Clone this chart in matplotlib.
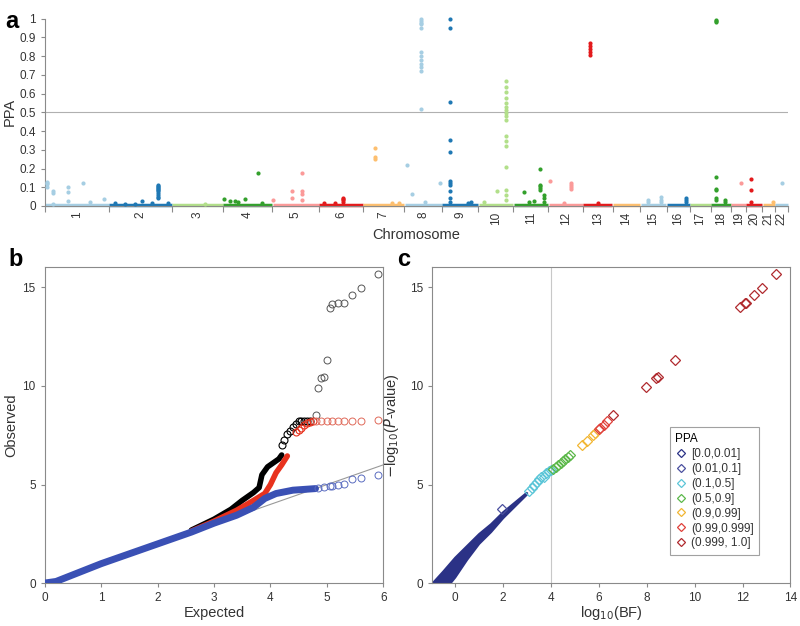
import numpy as np
import matplotlib
matplotlib.use("Agg")
import matplotlib.pyplot as plt
from matplotlib.lines import Line2D

# ---------------- panel a data ----------------
chrom_names = [str(i) for i in range(1, 23)]
chrom_len = [249, 243, 198, 191, 181, 171, 159, 146, 141, 136, 135,
             134, 115, 107, 102, 90, 81, 78, 59, 63, 48, 51]
chrom_cols = ["#a6cee3", "#1f78b4", "#b2df8a", "#33a02c", "#fb9a99", "#e31a1c", "#fdbf6f"]

# per chromosome: positions (Mb) and PPA of the visible SNPs above the baseline
snp_pos = [
    [8, 8, 8, 8, 31, 31, 31, 89, 89, 89, 147, 175, 229],
    [190, 190, 190, 190, 190, 190, 190, 190, 190, 190, 190, 128, 23, 229, 167, 60, 100],
    [130],
    [136, 4, 27, 45, 60, 85, 150],
    [1, 77, 77, 116, 116, 116, 116],
    [93, 93, 93, 93, 20, 60],
    [47, 47, 47, 110, 140],
    [12, 30, 65, 65, 65, 65, 65, 65, 65, 65, 65, 65, 65, 65, 140, 80],
    [30, 30, 30, 30, 30, 30, 30, 30, 30, 30, 30, 111, 100],
    [108, 108, 108, 108, 108, 108, 108, 108, 108, 108, 108, 108, 108, 108, 108, 108, 108, 72, 20],
    [101, 101, 101, 101, 101, 41, 120, 120, 120, 60, 80],
    [7, 89, 89, 89, 89, 60],
    [27, 27, 27, 27, 27, 60],
    [],
    [31, 31, 82, 82, 82],
    [75, 75, 75],
    [],
    [22, 22, 22, 22, 22, 22, 22, 22, 55, 55],
    [38],
    [19, 19, 19],
    [40],
    [28],
]
snp_ppa = [
    [0.13, 0.125, 0.115, 0.10, 0.08, 0.07, 0.01, 0.10, 0.075, 0.025, 0.125, 0.02, 0.035],
    [0.11, 0.105, 0.10, 0.095, 0.09, 0.085, 0.08, 0.07, 0.06, 0.05, 0.04, 0.025, 0.015, 0.015, 0.015, 0.01, 0.012],
    [0.01],
    [0.175, 0.035, 0.025, 0.025, 0.02, 0.035, 0.015],
    [0.03, 0.08, 0.045, 0.175, 0.08, 0.065, 0.03],
    [0.045, 0.035, 0.03, 0.02, 0.015, 0.015],
    [0.31, 0.26, 0.25, 0.015, 0.015],
    [0.22, 0.065, 1.0, 0.99, 0.98, 0.97, 0.95, 0.82, 0.80, 0.78, 0.76, 0.74, 0.72, 0.52, 0.12, 0.02],
    [1.0, 0.95, 0.556, 0.35, 0.29, 0.135, 0.12, 0.11, 0.08, 0.04, 0.02, 0.02, 0.015],
    [0.665, 0.638, 0.611, 0.576, 0.549, 0.531, 0.513, 0.495, 0.478, 0.46, 0.375, 0.345, 0.318, 0.21,
     0.085, 0.058, 0.031, 0.08, 0.02],
    [0.197, 0.112, 0.104, 0.095, 0.085, 0.075, 0.06, 0.04, 0.02, 0.02, 0.025],
    [0.131, 0.12, 0.11, 0.10, 0.09, 0.015],
    [0.87, 0.856, 0.841, 0.825, 0.804, 0.015],
    [],
    [0.03, 0.02, 0.05, 0.03, 0.02],
    [0.04, 0.03, 0.02],
    [],
    [0.995, 0.99, 0.985, 0.157, 0.09, 0.085, 0.04, 0.03, 0.03, 0.02],
    [0.125],
    [0.144, 0.085, 0.02],
    [0.02],
    [0.12],
]

# ---------------- panel b data ----------------
qq_diag = [0, 6]
qq_blue_x = [0.0, 0.2, 1.0, 2.0, 2.6, 3.0, 3.4, 3.7, 3.9, 4.1, 4.4, 4.8]
qq_blue_y = [0.02, 0.1, 1.0, 2.0, 2.6, 3.05, 3.45, 3.85, 4.3, 4.55, 4.72, 4.8]
qq_blue_tx = [4.85, 4.95, 5.05, 5.1, 5.2, 5.3, 5.45, 5.6, 5.9]
qq_blue_ty = [4.85, 4.9, 4.95, 4.95, 5.0, 5.05, 5.3, 5.35, 5.5]
qq_black_x = [2.6, 3.0, 3.3, 3.5, 3.7, 3.8, 3.85, 3.95, 4.05, 4.15, 4.2]
qq_black_y = [2.7, 3.25, 3.75, 4.2, 4.6, 4.85, 5.5, 5.9, 6.1, 6.3, 6.5]
qq_black_ux = [4.2, 4.25, 4.3, 4.35, 4.4, 4.45, 4.5, 4.55, 4.6, 4.65, 4.7]
qq_black_uy = [7.0, 7.25, 7.55, 7.7, 7.9, 8.05, 8.2, 8.2, 8.2, 8.2, 8.2]
qq_black_tx = [4.8, 4.85, 4.9, 4.95, 5.0, 5.05, 5.1, 5.2, 5.3, 5.45, 5.6, 5.9]
qq_black_ty = [8.5, 9.9, 10.4, 10.45, 11.3, 13.95, 14.15, 14.2, 14.2, 14.6, 14.95, 15.65]
qq_red_x = [2.6, 3.0, 3.4, 3.7, 3.9, 4.0, 4.1, 4.2, 4.3]
qq_red_y = [2.65, 3.15, 3.7, 4.2, 4.55, 5.0, 5.6, 6.0, 6.45]
qq_red_ux = [4.45, 4.5, 4.55, 4.6, 4.65, 4.7, 4.75]
qq_red_uy = [7.65, 7.75, 7.85, 8.0, 8.1, 8.15, 8.2]
qq_red_tx = [4.8, 4.9, 5.0, 5.1, 5.2, 5.3, 5.45, 5.6, 5.9]
qq_red_ty = [8.2, 8.2, 8.2, 8.2, 8.2, 8.2, 8.2, 8.22, 8.25]

# ---------------- panel c data ----------------
wedge_up_x = [-0.95, -0.5, 0.0, 0.5, 1.0, 1.5, 2.0, 2.5, 3.0]
wedge_up_y = [0.0, 0.6, 1.3, 1.9, 2.5, 3.0, 3.6, 4.1, 4.6]
wedge_lo_x = [3.0, 2.5, 2.0, 1.5, 1.0, 0.5, 0.0, -0.2]
wedge_lo_y = [4.5, 3.9, 3.3, 2.6, 2.0, 1.2, 0.3, 0.0]
ppa_labels = ["[0.0,0.01]", "(0.01,0.1]", "(0.1,0.5]", "(0.5,0.9]",
              "(0.9,0.99]", "(0.99,0.999]", "(0.999, 1.0]"]
ppa_cols = ["#2b3286", "#4a4f9e", "#5cc6d8", "#5cb84a", "#f2b632", "#e0403a", "#b02a2e"]
bf_x = [[], [1.95],
        [3.1, 3.2, 3.3, 3.4, 3.5, 3.6, 3.7, 3.8, 3.9, 4.0],
        [4.1, 4.2, 4.3, 4.4, 4.5, 4.6, 4.7, 4.8],
        [5.3, 5.5, 5.75, 5.85],
        [6.0, 6.05, 6.2, 6.35],
        [6.6, 7.95, 8.4, 8.45, 9.2, 11.9, 12.1, 12.15, 12.5, 12.8, 13.4]]
bf_y = [[], [3.75],
        [4.7, 4.85, 5.0, 5.15, 5.3, 5.4, 5.4, 5.6, 5.7, 5.75],
        [5.8, 5.9, 6.0, 6.1, 6.2, 6.3, 6.4, 6.5],
        [7.0, 7.2, 7.5, 7.6],
        [7.8, 7.85, 8.0, 8.2],
        [8.5, 9.95, 10.4, 10.45, 11.3, 14.0, 14.2, 14.2, 14.6, 14.95, 15.65]]

txt = "#333333"
spine = "#8a8a8a"
plt.rcParams['font.family'] = ['Liberation Sans', 'DejaVu Sans']
plt.rcParams['font.size'] = 8.5

fig = plt.figure(figsize=(8, 6.26), dpi=100)

# ---------- a ----------
axa = fig.add_axes([0.056, 0.671, 0.929, 0.299])
starts = np.concatenate([[0], np.cumsum(chrom_len)[:-1]])
total = sum(chrom_len)
for i, L in enumerate(chrom_len):
    col = chrom_cols[i % 7]
    axa.plot([starts[i] + 1, starts[i] + L - 1], [0.004, 0.004], color=col,
             lw=2.5, solid_capstyle='butt', clip_on=False, zorder=2)
    if snp_pos[i]:
        axa.scatter(starts[i] + np.array(snp_pos[i]), snp_ppa[i], s=9, color=col,
                    linewidths=0, clip_on=False, zorder=3)
axa.axhline(0.5, color="#b0b0b0", lw=0.8, zorder=1)
axa.set_xlim(0, total)
axa.set_ylim(0, 1)
axa.spines['top'].set_visible(False)
axa.spines['right'].set_visible(False)
for s in ['left', 'bottom']:
    axa.spines[s].set_color(spine)
axa.set_yticks(np.arange(0, 1.01, 0.1))
axa.set_yticklabels(["0", "0.1", "0.2", "0.3", "0.4", "0.5", "0.6", "0.7", "0.8", "0.9", "1"])
axa.set_xticks(np.concatenate([starts, [total]]))
axa.set_xticklabels([])
axa.set_xticks(starts + np.array(chrom_len) / 2, minor=True)
axa.set_xticklabels(chrom_names, minor=True, rotation=90)
axa.tick_params(axis='x', which='minor', length=0, pad=4, colors=txt)
axa.tick_params(axis='x', which='major', length=4, color=spine)
axa.tick_params(axis='y', length=3, color=spine, labelcolor=txt)
axa.set_ylabel("PPA", fontsize=10.5, color=txt, labelpad=2)
axa.set_xlabel("Chromosome", fontsize=10.5, color=txt, labelpad=2)
fig.text(0.006, 0.955, "a", fontsize=17, fontweight='bold')

# ---------- b ----------
axb = fig.add_axes([0.056, 0.068, 0.423, 0.505])
axb.plot(qq_diag, qq_diag, color="#999999", lw=0.8, zorder=1)
axb.plot(qq_black_x, qq_black_y, color="black", lw=4, zorder=2, solid_capstyle='round')
axb.plot(qq_black_ux, qq_black_uy, 'o', mfc='none', mec="black", ms=5, mew=0.8, zorder=2)
axb.plot(qq_black_tx, qq_black_ty, 'o', mfc='none', mec="#555555", ms=5, mew=0.7, zorder=2)
axb.plot(qq_red_x, qq_red_y, color="#e8321e", lw=4, zorder=3, solid_capstyle='round')
axb.plot(qq_red_ux, qq_red_uy, 'o', mfc='none', mec="#e8321e", ms=5, mew=0.8, zorder=3)
axb.plot(qq_red_tx, qq_red_ty, 'o', mfc='none', mec="#e06a5a", ms=5, mew=0.7, zorder=3)
axb.plot(qq_blue_x, qq_blue_y, color="#3a50b4", lw=5, zorder=4, solid_capstyle='round')
axb.plot(qq_blue_tx, qq_blue_ty, 'o', mfc='none', mec="#5a6cc0", ms=5, mew=0.7, zorder=4)
axb.set_xlim(0, 6)
axb.set_ylim(0, 16)
axb.set_xticks(range(7))
axb.set_yticks([0, 5, 10, 15])
for s in axb.spines.values():
    s.set_color(spine)
axb.tick_params(length=3, color=spine, labelcolor=txt)
axb.set_xlabel("Expected", fontsize=10.5, color=txt, labelpad=1)
axb.set_ylabel("Observed", fontsize=10.5, color=txt, labelpad=3)
fig.text(0.01, 0.575, "b", fontsize=17, fontweight='bold')

# ---------- c ----------
axc = fig.add_axes([0.54, 0.068, 0.448, 0.505])
axc.axvline(4, color="#c8c8c8", lw=0.8, zorder=1)
axc.fill(wedge_up_x + wedge_lo_x, wedge_up_y + wedge_lo_y, color=ppa_cols[0], lw=1.5,
         ec=ppa_cols[0], zorder=2)
handles = []
for i in range(7):
    if bf_x[i]:
        axc.plot(bf_x[i], bf_y[i], 'D', mfc='none', mec=ppa_cols[i], ms=5, mew=0.9, zorder=3)
    handles.append(Line2D([], [], marker='D', ls='none', mfc='none', mec=ppa_cols[i], ms=4.5,
                          mew=0.9, label=ppa_labels[i]))
axc.set_xlim(-0.97, 14)
axc.set_ylim(0, 16)
axc.set_xticks(range(0, 15, 2))
axc.set_yticks([0, 5, 10, 15])
for s in axc.spines.values():
    s.set_color(spine)
axc.tick_params(length=3, color=spine, labelcolor=txt)
axc.set_xlabel(r"log$_{10}$(BF)", fontsize=10.5, color=txt, labelpad=0)
axc.set_ylabel(r"$-$log$_{10}$($P$-value)", fontsize=10.5, color=txt, labelpad=6)
leg = axc.legend(handles=handles, title="PPA", loc='lower right', bbox_to_anchor=(0.93, 0.07),
                 fontsize=8.5, title_fontsize=8.5, frameon=True, fancybox=False,
                 handletextpad=0.3, handlelength=1.0, borderpad=0.5, labelspacing=0.25,
                 alignment='left')
leg.get_frame().set_edgecolor(spine)
leg.get_frame().set_linewidth(0.8)
for t in leg.get_texts():
    t.set_color(txt)
fig.text(0.497, 0.575, "c", fontsize=17, fontweight='bold')

fig.savefig("out.png", dpi=100)
